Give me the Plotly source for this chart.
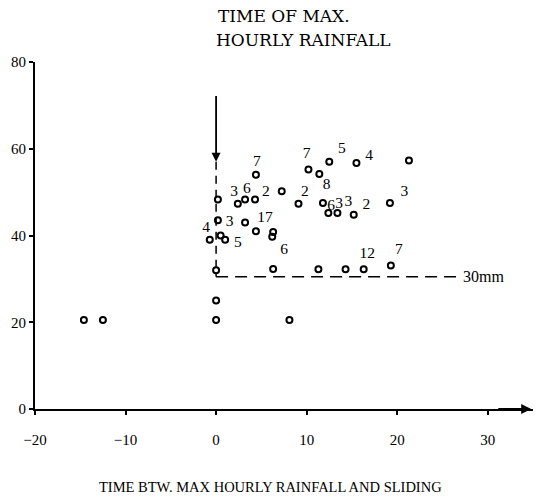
import plotly.graph_objects as go

FONT = "Liberation Serif"
TITLE_FONT = "DejaVu Serif"

# data points (time btw max hourly rainfall and sliding, max hourly rainfall)
pt_x = [-14.6, -12.5, 0.0, 0.0, 0.0, -0.7, 0.5, 1.0, 0.2, 0.2, 2.4, 3.2, 4.3, 7.25,
        4.4, 3.2, 4.4, 6.3, 6.2, 6.3, 8.1, 9.1, 10.2, 11.4, 12.5, 15.5, 11.8, 12.4,
        13.4, 15.2, 11.3, 14.3, 16.3, 21.3, 19.2, 19.3]
pt_y = [20.5, 20.5, 20.5, 25.0, 32.0, 39.0, 40.0, 39.0, 43.5, 48.3, 47.3, 48.3, 48.3, 50.2,
        54.0, 43.0, 41.0, 40.8, 39.7, 32.3, 20.5, 47.3, 55.2, 54.2, 57.0, 56.7, 47.5, 45.2,
        45.2, 44.8, 32.2, 32.2, 32.2, 57.3, 47.5, 33.1]

# number labels beside points
lab_x = [-1.1, 2.4, 1.5, 2.0, 3.4, 5.5, 4.5, 5.4, 7.5, 9.8, 10.0, 13.9, 16.9, 12.2,
         12.7, 13.6, 14.6, 16.6, 16.7, 20.8, 20.2]
lab_y = [41.6, 38.3, 43.0, 49.9, 50.6, 50.1, 57.0, 44.1, 36.7, 49.9, 58.7, 59.8, 58.4, 51.6,
         46.8, 47.3, 47.6, 47.1, 35.6, 50.1, 36.7]
lab_t = ["4", "5", "3", "3", "6", "2", "7", "17", "6", "2", "7", "5", "4", "8",
         "6", "3", "3", "2", "12", "3", "7"]

# reference lines
thr_y = 30.5          # 30mm threshold
thr_x_end = 26.5
arrow_top = 72.5
arrow_tip = 57.0

x_ticks = [-20, -10, 0, 10, 20, 30]
y_ticks = [0, 20, 40, 60, 80]

fig = go.Figure()

fig.add_trace(go.Scatter(x=[0, 0], y=[arrow_tip, thr_y], mode="lines",
                         line=dict(color="black", width=1.5, dash="8px,6px"),
                         hoverinfo="skip", showlegend=False))
fig.add_trace(go.Scatter(x=[0, thr_x_end], y=[thr_y, thr_y], mode="lines",
                         line=dict(color="black", width=1.5, dash="12px,7px"),
                         hoverinfo="skip", showlegend=False))

fig.add_trace(go.Scatter(x=pt_x, y=pt_y, mode="markers",
                         marker=dict(symbol="circle-open", size=6, color="black",
                                     line=dict(width=2, color="black")),
                         showlegend=False))

fig.add_trace(go.Scatter(x=lab_x, y=lab_y, mode="text", text=lab_t,
                         textposition="middle center",
                         textfont=dict(family=FONT, size=15.5, color="black"),
                         showlegend=False, hoverinfo="skip"))

# vertical arrow
fig.add_annotation(x=0, y=arrow_tip, ax=0, ay=arrow_top, axref="x", ayref="y",
                   xref="x", yref="y", text="", showarrow=True,
                   arrowhead=2, arrowsize=1, arrowwidth=1.8, arrowcolor="black")
# x axis arrow
fig.add_annotation(x=34.8, y=0, ax=31, ay=0, axref="x", ayref="y",
                   xref="x", yref="y", text="", showarrow=True,
                   arrowhead=2, arrowsize=1, arrowwidth=2, arrowcolor="black")

fig.add_annotation(x=thr_x_end + 0.6, y=thr_y, xref="x", yref="y", text="30mm",
                   showarrow=False, xanchor="left", yanchor="middle",
                   font=dict(family=FONT, size=16, color="black"))

fig.add_annotation(x=0.363, y=1.133, xref="paper", yref="paper", text="TIME OF MAX.",
                   showarrow=False, xanchor="left", yanchor="middle",
                   font=dict(family=TITLE_FONT, size=17, color="black"))
fig.add_annotation(x=0.359, y=1.063, xref="paper", yref="paper", text="HOURLY RAINFALL",
                   showarrow=False, xanchor="left", yanchor="middle",
                   font=dict(family=TITLE_FONT, size=17, color="black"))
fig.add_annotation(x=0.472, y=-0.225, xref="paper", yref="paper",
                   text="TIME BTW. MAX HOURLY RAINFALL AND SLIDING",
                   showarrow=False, xanchor="center", yanchor="middle",
                   font=dict(family=FONT, size=14.5, color="black"))

fig.update_layout(
    width=541, height=499,
    margin=dict(l=35, r=8, t=62, b=90),
    plot_bgcolor="white", paper_bgcolor="white",
    font=dict(family=FONT, size=14, color="black"),
    xaxis=dict(range=[-20, 35], tickvals=x_ticks, ticks="outside", ticklen=4,
               tickwidth=1.5, tickcolor="black", showgrid=False, zeroline=False,
               showline=True, linecolor="black", linewidth=2,
               ticklabelstandoff=12, tickfont=dict(family=FONT, size=15)),
    yaxis=dict(range=[0, 80], tickvals=y_ticks, ticks="outside", ticklen=4,
               tickwidth=1.5, tickcolor="black", showgrid=False, zeroline=False,
               showline=True, linecolor="black", linewidth=2,
               tickfont=dict(family=FONT, size=15)),
)

fig.write_html("out.html")
